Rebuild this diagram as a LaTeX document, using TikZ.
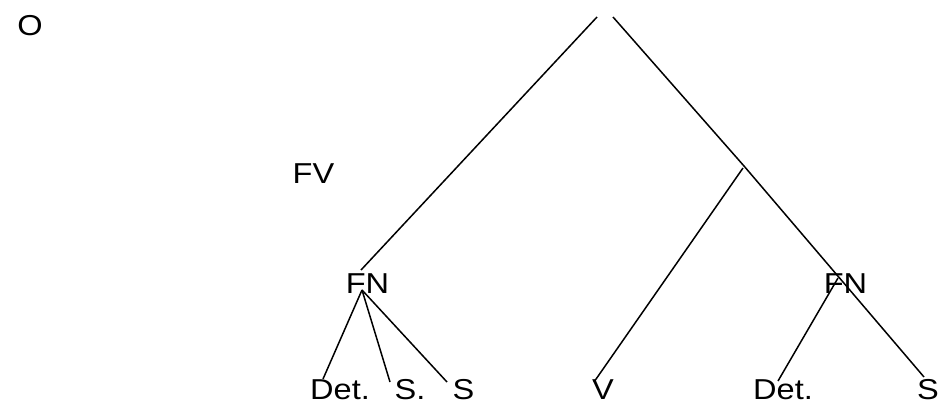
\documentclass[tikz,border=0pt]{standalone}
\usepackage{fontspec}
\setmainfont{Liberation Sans}[FakeStretch=1.13]
\begin{document}
\begin{tikzpicture}[x=1pt,y=-1pt,
  lbl/.style={inner sep=0pt,anchor=base,text depth=0pt,font=\fontsize{28.8}{34}\selectfont},
  edge/.style={draw=black,line width=1.5pt}]
\useasboundingbox[fill=white] (0,0) rectangle (939,405);
% labels
\node[lbl] (o) at (30,35) {O};
\node[lbl] (fv) at (313.5,183) {FV};
\node[lbl] (fnl) at (367.5,293) {FN};
\node[lbl] (fnr) at (845.5,293) {FN};
\node[lbl] (detl) at (340,399) {Det.};
\node[lbl] (sdot) at (410,399) {S.};
\node[lbl] (sl) at (463.5,399) {S};
\node[lbl] (v) at (603,399) {V};
\node[lbl] (detr) at (783,399) {Det.};
\node[lbl] (sr) at (928,399) {S};
% line end points
\coordinate (topl) at (597,17);
\coordinate (topr) at (613,17);
\coordinate (fnlup) at (361,270);
\coordinate (fnlapex) at (362,290);
\coordinate (fvpt) at (744,166);
\coordinate (fvlow) at (743,168);
\coordinate (vtop) at (594,382);
\coordinate (detlend) at (323,379);
\coordinate (sdotend) at (390,382);
\coordinate (slend) at (447,382);
\coordinate (fnrapex) at (838,278);
\coordinate (detrend) at (778,381);
\coordinate (srend) at (924,377);
% connectors
\draw[edge] (topl) -- (fnlup);
\draw[edge] (topr) -- (fvpt) -- (srend);
\draw[edge] (fvlow) -- (vtop);
\draw[edge] (fnlapex) -- (detlend);
\draw[edge] (fnlapex) -- (sdotend);
\draw[edge] (fnlapex) -- (slend);
\draw[edge] (fnrapex) -- (detrend);
\end{tikzpicture}
\end{document}
